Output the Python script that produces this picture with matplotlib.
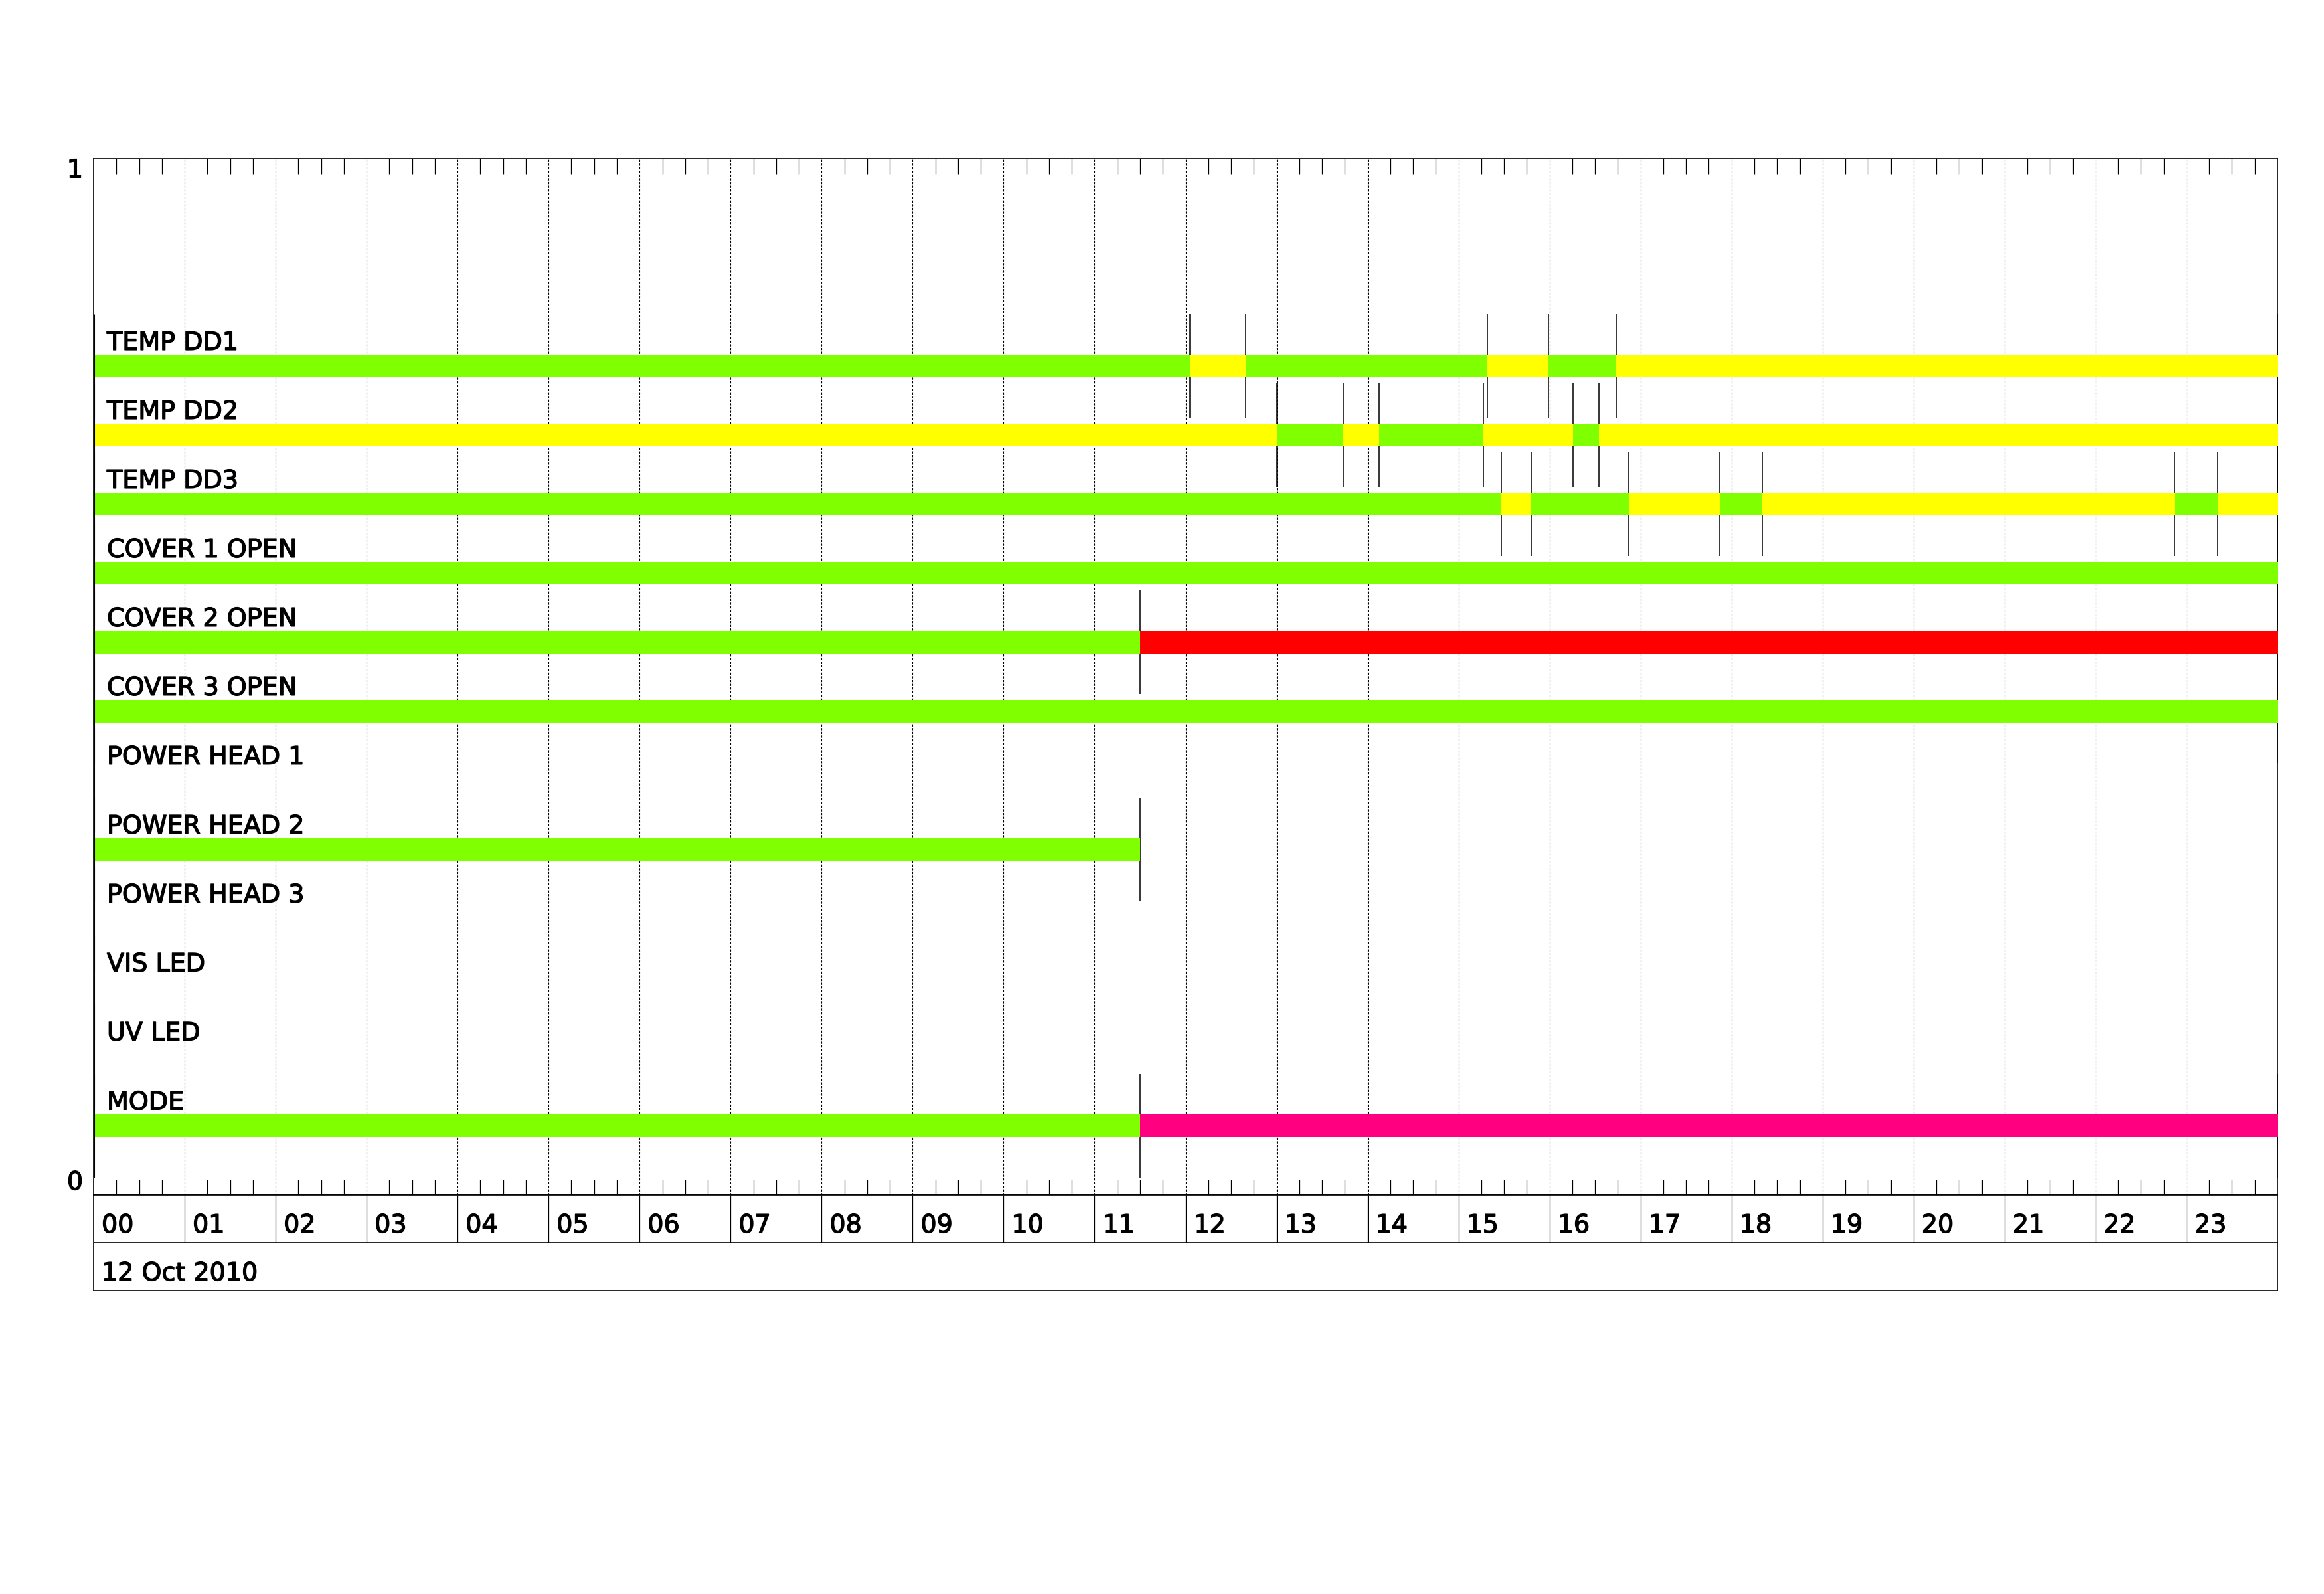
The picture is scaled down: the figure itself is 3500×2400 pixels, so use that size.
import numpy as np
import matplotlib.pyplot as plt
import matplotlib.patheffects as pe

plt.rcParams['font.family'] = ['DejaVu Sans']

# channel names, top to bottom
names = ['TEMP DD1', 'TEMP DD2', 'TEMP DD3', 'COVER 1 OPEN', 'COVER 2 OPEN',
         'COVER 3 OPEN', 'POWER HEAD 1', 'POWER HEAD 2', 'POWER HEAD 3',
         'VIS LED', 'UV LED', 'MODE']

# state changes (hours of 12 Oct 2010) and the state held after each one
dd1_t = [0, 12.05, 12.66, 15.32, 15.99, 16.73, 24]
dd1_s = ['ok', 'warn', 'ok', 'warn', 'ok', 'warn']
dd2_t = [0, 13.0, 13.73, 14.13, 15.27, 16.26, 16.54, 24]
dd2_s = ['warn', 'ok', 'warn', 'ok', 'warn', 'ok', 'warn']
dd3_t = [0, 15.47, 15.80, 16.87, 17.87, 18.34, 22.87, 23.34, 24]
dd3_s = ['ok', 'warn', 'ok', 'warn', 'ok', 'warn', 'ok', 'warn']
cov1_t = [0, 24]
cov1_s = ['ok']
cov2_t = [0, 11.5, 24]
cov2_s = ['ok', 'alarm']
cov3_t = [0, 24]
cov3_s = ['ok']
ph1_t = [0]
ph1_s = []
ph2_t = [0, 11.5]
ph2_s = ['ok']
ph3_t = [0]
ph3_s = []
vis_t = [0]
vis_s = []
uv_t = [0]
uv_s = []
mode_t = [0, 11.5, 24]
mode_s = ['ok', 'obs']

times = [dd1_t, dd2_t, dd3_t, cov1_t, cov2_t, cov3_t, ph1_t, ph2_t, ph3_t,
         vis_t, uv_t, mode_t]
states = [dd1_s, dd2_s, dd3_s, cov1_s, cov2_s, cov3_s, ph1_s, ph2_s, ph3_s,
          vis_s, uv_s, mode_s]

hour_labels = ['%02d' % h for h in range(24)]
date_label = '12 Oct 2010'

colors = {'ok': '#7FFF00', 'warn': '#FFFF00', 'alarm': '#FF0000', 'obs': '#FF0080'}

fs = 27.4
bold = [pe.withStroke(linewidth=1.0, foreground='k')]

fig = plt.figure(figsize=(35, 24), dpi=100)
ax = fig.add_axes([0.040286, 0.25042, 0.939714, 0.64987])
ax.set_xlim(0, 24)
ax.set_ylim(0, 1)

# hour grid
ax.vlines(np.arange(1, 24), 0, 1, colors='k', linewidth=0.8,
          linestyles=(0, (3, 2)), zorder=1)

step = 1 / 15.
n = len(names)
for i, (name, t, s) in enumerate(zip(names, times, states)):
    y = (n - i) * step
    # transition markers
    tm = t[:len(s) + 1] if s else t
    ax.vlines(tm[1:], y - 0.05, y + 0.05, colors='k', linewidth=1.1, zorder=2)
    ax.vlines(tm[0], y - 0.05, y + 0.05, colors='k', linewidth=2.2, zorder=5)
    for k, st in enumerate(s):
        ax.barh(y, t[k + 1] - t[k], left=t[k], height=0.0216,
                color=colors[st], linewidth=0, zorder=3)
    ax.text(0.146, y + 0.0156, name, fontsize=fs, va='baseline', ha='left',
            zorder=4, path_effects=bold)

ax.set_xticks([h + q / 4. for h in range(24) for q in (1, 2, 3)])
ax.set_xticklabels([])
ax.set_yticks([])
ax.tick_params(axis='x', which='both', direction='in', top=True, bottom=True,
               length=16.6, width=0.9)
for sp in ax.spines.values():
    sp.set_linewidth(1.2)

ax.annotate('1', xy=(0, 1), xycoords='axes fraction', xytext=(-11.5, 0),
            textcoords='offset points', ha='right', va='top', fontsize=fs,
            path_effects=bold)
ax.annotate('0', xy=(0, 0), xycoords='axes fraction', xytext=(-11.5, 0),
            textcoords='offset points', ha='right', va='bottom', fontsize=fs,
            path_effects=bold)

# time labels below the plot
ax2 = fig.add_axes([0.040286, 0.19042, 0.939714, 0.06])
ax2.set_xlim(0, 24)
ax2.set_ylim(0, 2)
ax2.set_xticks([])
ax2.set_yticks([])
for sp in ax2.spines.values():
    sp.set_linewidth(1.2)
ax2.axhline(1, color='k', linewidth=1.2)
ax2.vlines(np.arange(1, 24), 1, 2, colors='k', linewidth=0.9)
for h, lab in enumerate(hour_labels):
    ax2.text(h + 0.0875, 1.21, lab, fontsize=fs, va='baseline', ha='left',
             path_effects=bold)
ax2.text(0.0875, 0.21, date_label, fontsize=fs, va='baseline', ha='left',
         path_effects=bold)

plt.savefig('out.png', dpi=100)
